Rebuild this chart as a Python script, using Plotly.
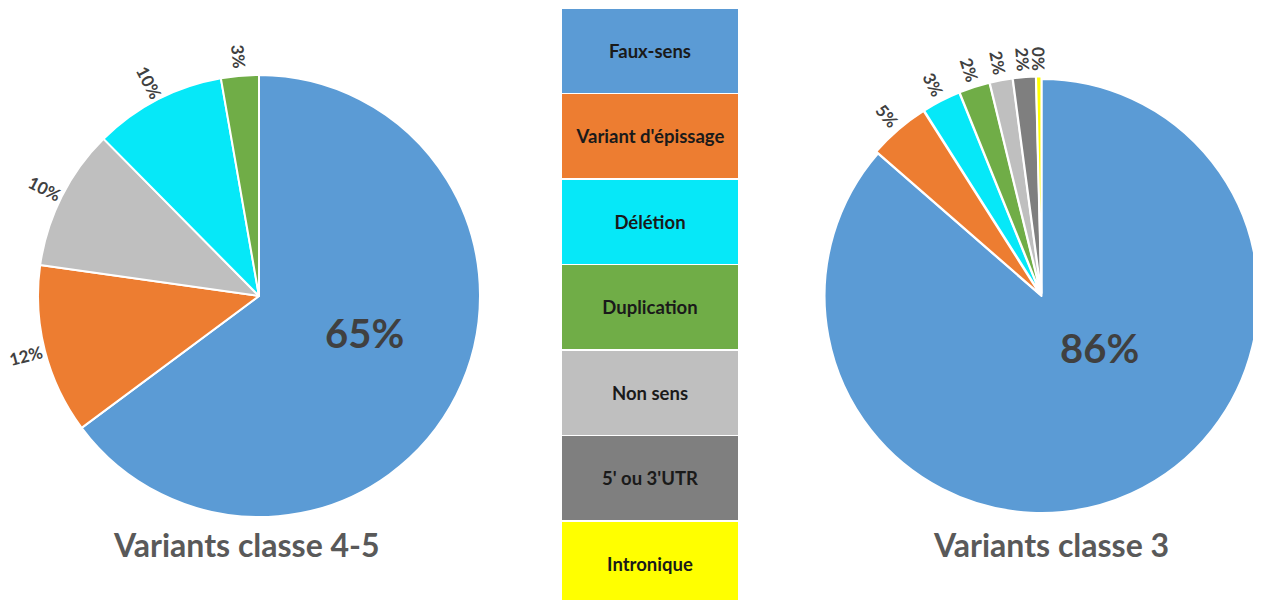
import numpy as np
import plotly.graph_objects as go

# The page adds an 8px body margin; work in page pixels and shift by OFF.
PAGE_W, PAGE_H = 1261, 600
OFF = 8
W, H = PAGE_W - OFF, PAGE_H - OFF

# ---------------- data ----------------
categories = ["Faux-sens", "Variant d'épissage", "Délétion", "Duplication",
              "Non sens", "5' ou 3'UTR", "Intronique"]
cat_colors = ["#5B9BD5", "#ED7D31", "#06E8F8", "#70AD47",
              "#BFBFBF", "#7F7F7F", "#FFFF00"]

left_labels = ["Faux-sens", "Variant d'épissage", "Non sens", "Délétion", "Duplication"]
left_values = [94, 18, 15, 14, 4]

right_labels = ["Faux-sens", "Variant d'épissage", "Délétion", "Duplication",
                "Non sens", "5' ou 3'UTR", "Intronique"]
right_values = [86.4, 4.6, 2.9, 2.3, 1.7, 1.7, 0.4]

left_title = "Variants classe 4-5"
right_title = "Variants classe 3"

color_of = dict(zip(categories, cat_colors))

FONT = "Lato"
LABEL_COLOR = "#404040"


def px2paper(x, y):
    """page pixel -> paper fraction"""
    return (x - OFF) / W, 1 - (y - OFF) / H


# ---------------- layout geometry (page pixels) ----------------
L_CX, L_CY, L_R = 259, 296, 221
R_X0, R_X1 = 822, 1261
R_CY, R_HALF = 296, 222
R_PULL = 0.012

fig = go.Figure()

lx0, ly0 = px2paper(L_CX - L_R, L_CY + L_R)
lx1, ly1 = px2paper(L_CX + L_R, L_CY - L_R)
fig.add_trace(go.Pie(
    labels=left_labels, values=left_values, sort=False, direction="clockwise",
    rotation=0, textinfo="none", showlegend=False,
    marker=dict(colors=[color_of[c] for c in left_labels],
                line=dict(color="white", width=2)),
    domain=dict(x=[lx0, lx1], y=[ly0, ly1]),
))

right_pulls = [0] + [R_PULL] * (len(right_values) - 1)
rx0, ry0 = px2paper(R_X0, R_CY + R_HALF)
rx1, ry1 = px2paper(R_X1, R_CY - R_HALF)
fig.add_trace(go.Pie(
    labels=right_labels, values=right_values, sort=False, direction="clockwise",
    rotation=0, textinfo="none", showlegend=False, pull=right_pulls,
    marker=dict(colors=[color_of[c] for c in right_labels],
                line=dict(color="white", width=2)),
    domain=dict(x=[rx0, min(rx1, 1.0)], y=[ry0, min(ry1, 1.0)]),
))

# legend made of coloured boxes (a horizontal bar chart)
BOX_TOP, BOX_PITCH = 8, 85.5
fig.add_trace(go.Bar(
    orientation="h", x=[1] * len(categories), y=categories,
    marker=dict(color=cat_colors, line=dict(width=0)), width=0.98,
    text=categories, textposition="inside", insidetextanchor="middle",
    textangle=0, constraintext="none",
    textfont=dict(family=FONT, size=18.5, color="#1a1a1a", weight="bold"),
    showlegend=False, hoverinfo="skip", xaxis="x", yaxis="y",
))

annotations = []


def slice_annotations(values, cx, cy, r, pulls, offset, size):
    total = float(sum(values))
    cum = 0.0
    out = []
    for i, v in enumerate(values):
        frac = v / total
        mid = (cum + frac / 2) * 2 * np.pi
        cum += frac
        if i == 0:
            continue
        rr = r * (1 + pulls[i]) + offset
        x = cx + rr * np.sin(mid)
        y = cy - rr * np.cos(mid)
        # radial orientation, reading towards the centre
        ang = np.degrees(np.arctan2(np.cos(mid), -np.sin(mid)))
        px, py = px2paper(x, y)
        out.append(dict(x=px, y=py, xref="paper", yref="paper", showarrow=False,
                        text=f"{round(frac * 100)}%", textangle=float(ang),
                        xanchor="center", yanchor="middle",
                        font=dict(family=FONT, size=size, color=LABEL_COLOR,
                                  weight="bold")))
    return out


annotations += slice_annotations(left_values, L_CX, L_CY, L_R,
                                 [0] * len(left_values), 19, 17)
r_cx = (R_X0 + R_X1) / 2
r_r = min(R_X1 - R_X0, 2 * R_HALF) / 2 / (1 + R_PULL)
annotations += slice_annotations(right_values, r_cx, R_CY, r_r, right_pulls, 18, 17)

# big labels for the main slice
for val_list, (bx, by) in [(left_values, (365, 333)), (right_values, (1099, 348))]:
    px, py = px2paper(bx, by)
    annotations.append(dict(x=px, y=py, xref="paper", yref="paper", showarrow=False,
                            text=f"{round(val_list[0] / sum(val_list) * 100)}%",
                            xanchor="center", yanchor="middle",
                            font=dict(family=FONT, size=40, color=LABEL_COLOR,
                                      weight="bold")))

# titles
for t, (tx, ty) in [(left_title, (246, 544)), (right_title, (1051, 544))]:
    px, py = px2paper(tx, ty)
    annotations.append(dict(x=px, y=py, xref="paper", yref="paper", showarrow=False,
                            text=t, xanchor="center", yanchor="middle",
                            font=dict(family=FONT, size=32, color="#595959",
                                      weight="bold")))

bx0, _ = px2paper(562, 0)
bx1, _ = px2paper(738, 0)
_, by1 = px2paper(0, BOX_TOP)
n_visible = (PAGE_H - BOX_TOP) / BOX_PITCH
fig.update_layout(
    width=W, height=H, margin=dict(l=0, r=0, t=0, b=0),
    paper_bgcolor="white", plot_bgcolor="white",
    xaxis=dict(domain=[bx0, bx1], range=[0, 1], visible=False, fixedrange=True),
    yaxis=dict(domain=[0, min(by1, 1.0)], range=[-0.5 + n_visible, -0.5],
               visible=False, fixedrange=True),
    annotations=annotations,
    bargap=0,
)

fig.write_html("out.html")
